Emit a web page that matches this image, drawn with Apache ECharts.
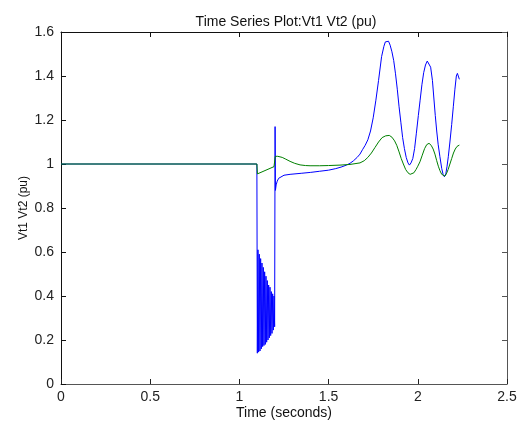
<!DOCTYPE html>
<html>
<head>
<meta charset="utf-8">
<script src="https://cdn.jsdelivr.net/npm/echarts@6/dist/echarts.min.js"></script>
<style>
  html, body { margin: 0; padding: 0; background: #fff; }
  #chart { width: 518px; height: 422px; }
</style>
</head>
<body>
<div id="chart"></div>
<script>
var xTicks = [0, 0.5, 1, 1.5, 2, 2.5];
var yTicks = [0, 0.2, 0.4, 0.6, 0.8, 1, 1.2, 1.4, 1.6];

// Vt1 (blue): prefault, fault oscillation, recovery, swings
var vt1Time = [0, 1.098,
    1.1005, 1.104, 1.1078, 1.1115, 1.1153, 1.119, 1.1228, 1.1265, 1.1303, 1.134, 1.1378,
    1.1415, 1.1453, 1.149, 1.1528, 1.1565, 1.1603, 1.164, 1.1678, 1.1715, 1.1753, 1.179,
    1.1828, 1.1865, 1.1903, 1.194, 1.1975,
    1.200, 1.202, 1.206, 1.212, 1.220, 1.230, 1.250, 1.284, 1.350, 1.400, 1.450, 1.500,
    1.540, 1.570, 1.600, 1.620, 1.640, 1.660, 1.676, 1.690, 1.705, 1.720, 1.735, 1.750,
    1.765, 1.780, 1.797, 1.810, 1.818, 1.826, 1.836, 1.845, 1.855, 1.865, 1.875, 1.885,
    1.895, 1.905, 1.915, 1.925, 1.935, 1.945, 1.953, 1.962, 1.972, 1.982, 1.992, 2.003,
    2.013, 2.023, 2.033, 2.043, 2.053, 2.062, 2.072, 2.082, 2.090, 2.098, 2.106, 2.114,
    2.124, 2.134, 2.142, 2.149, 2.157, 2.164, 2.171, 2.180, 2.190, 2.199, 2.208, 2.216,
    2.222, 2.228, 2.233];
var vt1Vals = [1.0, 1.0,
    0.14, 0.61, 0.145, 0.59, 0.15, 0.57, 0.16, 0.55, 0.17, 0.53, 0.175,
    0.51, 0.18, 0.49, 0.19, 0.47, 0.20, 0.45, 0.21, 0.44, 0.22, 0.42,
    0.23, 0.41, 0.245, 0.40, 0.26,
    1.17, 0.88, 0.905, 0.922, 0.935, 0.943, 0.949, 0.953, 0.958, 0.962, 0.967, 0.972,
    0.979, 0.986, 0.995, 1.003, 1.015, 1.03, 1.045, 1.065, 1.085, 1.11, 1.15, 1.21,
    1.29, 1.38, 1.488, 1.535, 1.555, 1.564, 1.558, 1.54, 1.51, 1.47, 1.41, 1.34,
    1.26, 1.19, 1.12, 1.07, 1.03, 1.005, 0.995, 1.005, 1.025, 1.07, 1.14, 1.22,
    1.29, 1.36, 1.415, 1.45, 1.468, 1.462, 1.44, 1.38, 1.30, 1.22, 1.15, 1.09,
    1.033, 0.98, 0.952, 0.942, 0.955, 0.99, 1.033, 1.10, 1.18, 1.26, 1.34, 1.40,
    1.412, 1.405, 1.385];

// Vt2 (green)
var vt2Time = [0, 1.098, 1.101, 1.194, 1.199, 1.201, 1.215, 1.240, 1.260, 1.284, 1.310,
    1.340, 1.370, 1.396, 1.450, 1.500, 1.564, 1.620, 1.676, 1.700, 1.720, 1.740, 1.760,
    1.780, 1.800, 1.820, 1.840, 1.855, 1.870, 1.882, 1.895, 1.907, 1.919, 1.932, 1.945,
    1.957, 1.967, 1.978, 1.990, 2.000, 2.012, 2.025, 2.038, 2.050, 2.063, 2.075, 2.086,
    2.096, 2.106, 2.115, 2.124, 2.134, 2.143, 2.152, 2.160, 2.170, 2.180, 2.190, 2.200,
    2.210, 2.220, 2.233];
var vt2Vals = [1.0, 1.0, 0.955, 0.988, 0.99, 1.035, 1.035, 1.03, 1.022, 1.012, 1.003,
    0.996, 0.993, 0.992, 0.992, 0.993, 0.995, 0.998, 1.005, 1.015, 1.03, 1.05, 1.075,
    1.10, 1.12, 1.128, 1.13, 1.122, 1.105, 1.085, 1.055, 1.025, 1.0, 0.975, 0.96,
    0.953, 0.953, 0.96, 0.975, 0.99, 1.01, 1.04, 1.07, 1.088, 1.094, 1.085, 1.068,
    1.045, 1.015, 0.99, 0.97, 0.953, 0.945, 0.945, 0.955, 0.975, 1.0, 1.025, 1.05,
    1.068, 1.08, 1.086];

function pairs(t, v) {
    var out = [];
    for (var i = 0; i < t.length; i++) {
        out.push([t[i], v[i]]);
    }
    return out;
}

var font = 'Liberation Sans, Arial, sans-serif';
var chart = echarts.init(document.getElementById('chart'), null, { renderer: 'canvas' });

chart.setOption({
    animation: false,
    backgroundColor: '#ffffff',
    title: {
        text: 'Time Series Plot:Vt1 Vt2 (pu)',
        left: 281, top: 10, textAlign: 'center',
        textStyle: { fontFamily: font, fontSize: 14, fontWeight: 'normal', color: '#111' }
    },
    grid: { left: 61, right: 11, top: 32, bottom: 38, outerBoundsMode: 'none', containLabel: false },
    xAxis: [{
        type: 'value', min: xTicks[0], max: xTicks[xTicks.length - 1], interval: 0.5,
        name: 'Time (seconds)', nameLocation: 'middle', nameGap: 22, nameMoveOverlap: false,
        nameTextStyle: { fontFamily: font, fontSize: 14, color: '#111' },
        axisLine: { show: true, onZero: false, lineStyle: { color: '#555', width: 1 } },
        axisTick: { show: true, inside: true, length: 5, lineStyle: { color: '#222' } },
        axisLabel: { fontFamily: font, fontSize: 14, color: '#222', margin: 6 },
        splitLine: { show: false }
    }, {
        type: 'value', position: 'top', min: 0, max: 2.5, interval: 0.5,
        axisLine: { show: true, onZero: false, lineStyle: { color: '#111', width: 1 } },
        axisTick: { show: true, inside: true, length: 5, lineStyle: { color: '#111' } },
        axisLabel: { show: false },
        splitLine: { show: false }
    }],
    yAxis: [{
        type: 'value', min: yTicks[0], max: yTicks[yTicks.length - 1], interval: 0.2,
        name: 'Vt1 Vt2 (pu)', nameLocation: 'middle', nameGap: 31, nameRotate: 90,
        nameMoveOverlap: false,
        nameTextStyle: { fontFamily: font, fontSize: 12, color: '#111' },
        axisLine: { show: true, onZero: false, lineStyle: { color: '#111', width: 1 } },
        axisTick: { show: true, inside: true, length: 5, lineStyle: { color: '#111' } },
        axisLabel: { fontFamily: font, fontSize: 14, color: '#222', margin: 7 },
        splitLine: { show: false }
    }, {
        type: 'value', position: 'right', min: 0, max: 1.6, interval: 0.2,
        axisLine: { show: true, onZero: false, lineStyle: { color: '#555', width: 1 } },
        axisTick: { show: true, inside: true, length: 5, lineStyle: { color: '#555' } },
        axisLabel: { show: false },
        splitLine: { show: false }
    }],
    series: [{
        name: 'Vt1', type: 'line', xAxisIndex: 0, yAxisIndex: 0,
        data: pairs(vt1Time, vt1Vals),
        showSymbol: false, symbol: 'none',
        lineStyle: { color: '#0000ff', width: 1 },
        z: 2
    }, {
        name: 'Vt2', type: 'line', xAxisIndex: 0, yAxisIndex: 0,
        data: pairs(vt2Time, vt2Vals),
        showSymbol: false, symbol: 'none',
        lineStyle: { color: '#008000', width: 1 },
        z: 3
    }]
});
</script>
</body>
</html>
